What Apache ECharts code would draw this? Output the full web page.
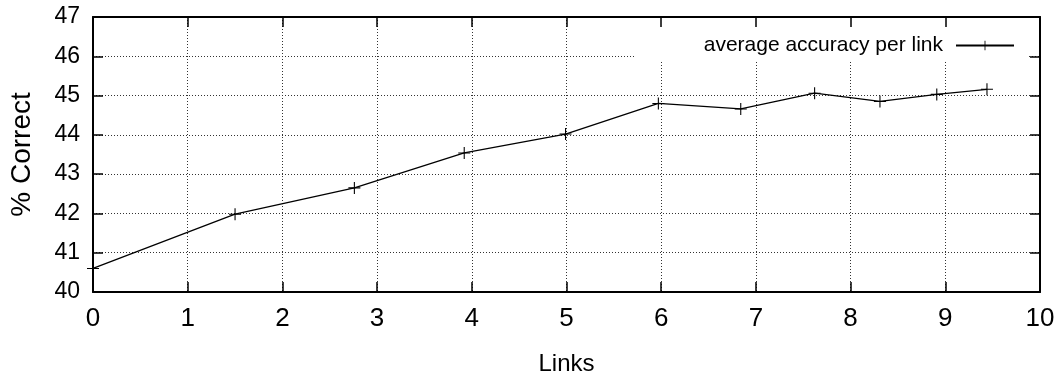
<!DOCTYPE html>
<html>
<head>
<meta charset="utf-8">
<script src="https://cdn.jsdelivr.net/npm/echarts@6/dist/echarts.min.js"></script>
<style>
html,body{margin:0;padding:0;background:#fff;}
#c{width:1059px;height:383px;}
</style>
</head>
<body>
<div id="c"></div>
<script>
var seriesName = 'average accuracy per link';
var linksX = [0, 1.50, 2.76, 3.92, 4.99, 5.97, 6.84, 7.62, 8.31, 8.91, 9.44];
var accuracyY = [40.60, 41.98, 42.65, 43.54, 44.02, 44.80, 44.66, 45.06, 44.85, 45.03, 45.16];
var xTicks = [0, 1, 2, 3, 4, 5, 6, 7, 8, 9, 10];
var yTicks = [40, 41, 42, 43, 44, 45, 46, 47];
var xTitle = 'Links';
var yTitle = '% Correct';

var SANS = "'Liberation Sans', Arial, Helvetica, sans-serif";
var plus = 'path://M-0.09,-1H0.09V1H-0.09ZM-1,-0.09H1V0.09H-1Z';

var chart = echarts.init(document.getElementById('c'), null, {renderer: 'canvas'});
var gridLine = {show: true, lineStyle: {color: '#333', width: 1, type: [1, 2]}};
var axisLine = {show: true, onZero: false, lineStyle: {color: '#000', width: 2}};
var tick = {show: true, inside: true, length: 10, lineStyle: {color: '#000', width: 1.5}};

chart.setOption({
  animation: false,
  backgroundColor: '#fff',
  grid: {left: 93, right: 19, top: 17, bottom: 91, containLabel: false},
  legend: {
    data: [seriesName],
    right: 31,
    top: 18,
    z: 1,
    align: 'right',
    backgroundColor: '#fff',
    padding: [15, 13, 2, 68],
    itemWidth: 58,
    itemHeight: 12,
    textStyle: {fontFamily: SANS, fontSize: 21, color: '#000', lineHeight: 25, padding: [0, 8, 0, 0]}
  },
  xAxis: [{
    type: 'value', min: xTicks[0], max: xTicks[xTicks.length - 1], interval: 1,
    position: 'bottom',
    name: xTitle, nameLocation: 'middle', nameGap: 60,
    nameTextStyle: {fontFamily: SANS, fontSize: 24, color: '#000'},
    axisLine: axisLine, axisTick: tick, splitLine: gridLine,
    axisLabel: {show: true, margin: 14, fontFamily: SANS, fontSize: 26, color: '#000', showMinLabel: true, showMaxLabel: true, hideOverlap: false}
  }, {
    type: 'value', min: xTicks[0], max: xTicks[xTicks.length - 1], interval: 1,
    position: 'top', z: 5,
    axisLine: axisLine, axisTick: tick, splitLine: {show: false}, axisLabel: {show: false}
  }],
  yAxis: [{
    type: 'value', min: yTicks[0], max: yTicks[yTicks.length - 1], interval: 1,
    position: 'left',
    name: yTitle, nameLocation: 'middle', nameGap: 57, nameRotate: 90,
    nameTextStyle: {fontFamily: SANS, fontSize: 28, color: '#000'},
    axisLine: axisLine, axisTick: tick, splitLine: gridLine,
    axisLabel: {show: true, margin: 13, fontFamily: SANS, fontSize: 23, color: '#000', showMinLabel: true, showMaxLabel: true, hideOverlap: false}
  }, {
    type: 'value', min: yTicks[0], max: yTicks[yTicks.length - 1], interval: 1,
    position: 'right', z: 5,
    axisLine: axisLine, axisTick: tick, splitLine: {show: false}, axisLabel: {show: false}
  }],
  series: [{
    name: seriesName,
    type: 'line',
    xAxisIndex: 0, yAxisIndex: 0,
    data: linksX.map(function (x, i) { return [x, accuracyY[i]]; }),
    symbol: plus,
    symbolSize: 12,
    showAllSymbol: true,
    clip: false,
    lineStyle: {color: '#000', width: 1.3},
    itemStyle: {color: '#000'},
    z: 3
  }]
});
</script>
</body>
</html>
